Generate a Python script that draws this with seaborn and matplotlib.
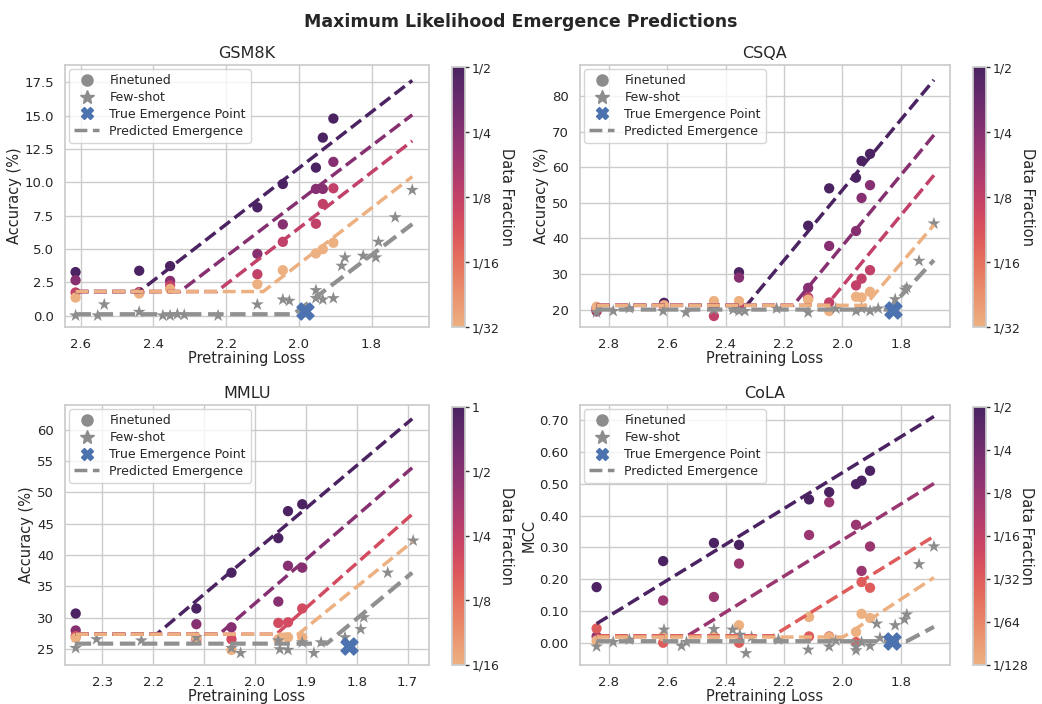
import numpy as np
import pandas as pd
import matplotlib
matplotlib.use("Agg")
import matplotlib.pyplot as plt
import seaborn as sns
from matplotlib.colors import LogNorm
from matplotlib.lines import Line2D
from matplotlib.ticker import MultipleLocator, FormatStrFormatter

# ---------------- GSM8K
gsm_loss = [2.614, 2.439, 2.354, 2.114, 2.044, 1.953, 1.934, 1.905]
gsm_frac = [1/2, 1/4, 1/8, 1/32]
gsm_ft = [
    [3.26, 3.36, 3.71, 8.12, 9.87, 11.1, 13.35, 14.78],
    [2.65, 1.75, 2.6, 4.63, 6.84, 9.5, 9.5, 11.53],
    [1.73, 1.75, 2.26, 3.1, 5.53, 6.89, 8.37, 9.55],
    [1.35, 1.65, 2.0, 2.35, 3.4, 4.66, 4.98, 5.46],
]
gsm_fs_loss = [2.614, 2.553, 2.535, 2.439, 2.374, 2.354, 2.334, 2.315, 2.222, 2.114, 2.044, 2.026,
               1.953, 1.953, 1.934, 1.905, 1.882, 1.873, 1.823, 1.788, 1.781, 1.735, 1.688]
gsm_fs_acc = [0.0, 0.0, 0.83, 0.27, 0.0, 0.0, 0.1, 0.05, 0.0, 0.83, 1.2, 1.1,
              1.9, 1.3, 1.2, 1.3, 3.73, 4.36, 4.48, 4.36, 5.53, 7.37, 9.42]
gsm_true = (1.983, 0.35)
gsm_flat = [1.8, 1.8, 1.8, 1.8]
gsm_breaks = [2.439, 2.327, 2.226, 2.098]
gsm_ends = [17.64, 15.06, 13.1, 10.42]
gsm_fs_fit = (0.1, 2.015, 6.86)
gsm_span = (2.614, 1.688)
gsm_ticks = [1/2, 1/4, 1/8, 1/16, 1/32]

# ---------------- CSQA
csqa_loss = [2.842, 2.611, 2.44, 2.354, 2.117, 2.045, 1.953, 1.934, 1.905]
csqa_frac = [1/2, 1/4, 1/8, 1/32]
csqa_ft = [
    [20.5, 21.9, 21.2, 30.5, 43.6, 54.1, 57.1, 61.8, 63.8],
    [19.5, 21.3, 21.0, 29.0, 26.1, 37.9, 42.1, 51.4, 55.0],
    [19.8, 21.0, 18.2, 20.9, 23.4, 22.0, 26.8, 28.7, 31.1],
    [20.8, 21.2, 22.4, 22.4, 22.8, 19.6, 23.6, 23.4, 25.0],
]
csqa_fs_loss = [2.842, 2.785, 2.73, 2.614, 2.536, 2.44, 2.374, 2.354, 2.334, 2.225, 2.117, 2.022,
                1.953, 1.934, 1.905, 1.877, 1.819, 1.785, 1.779, 1.737, 1.686]
csqa_fs_acc = [19.2, 19.6, 20.4, 19.6, 19.2, 20.0, 20.0, 19.6, 19.6, 20.3, 19.2, 20.3,
               19.6, 20.3, 19.6, 20.3, 22.9, 25.6, 26.2, 33.7, 44.2]
csqa_true = (1.825, 20.0)
csqa_flat = [21.2, 21.2, 21.2, 21.2]
csqa_breaks = [2.328, 2.168, 2.054, 1.922]
csqa_ends = [84.6, 69.1, 57.8, 43.8]
csqa_fs_fit = (20.0, 1.842, 33.9)
csqa_span = (2.842, 1.686)
csqa_ticks = [1/2, 1/4, 1/8, 1/16, 1/32]

# ---------------- MMLU
mmlu_loss = [2.352, 2.115, 2.046, 1.954, 1.935, 1.907]
mmlu_frac = [1, 1/2, 1/5, 1/16]
mmlu_ft = [
    [30.7, 31.5, 37.2, 42.7, 47.0, 48.1],
    [28.0, 29.0, 28.5, 32.6, 38.3, 38.0],
    [27.1, 26.6, 26.6, 29.2, 29.3, 31.5],
    [26.8, 26.9, 24.9, 26.6, 26.9, 26.9],
]
mmlu_fs_loss = [2.352, 2.311, 2.223, 2.115, 2.046, 2.028, 1.954, 1.951, 1.935, 1.907, 1.884,
                1.870, 1.823, 1.792, 1.786, 1.739, 1.689]
mmlu_fs_acc = [25.2, 26.6, 26.4, 26.9, 25.2, 24.4, 26.4, 25.0, 24.9, 26.1, 24.4,
               26.1, 26.9, 28.2, 30.1, 37.2, 42.3]
mmlu_true = (1.815, 25.6)
mmlu_flat = [27.4, 27.4, 27.4, 27.4]
mmlu_breaks = [2.193, 2.070, 1.958, 1.915]
mmlu_ends = [61.7, 53.9, 46.5, 42.1]
mmlu_fs_fit = (25.9, 1.859, 37.2)
mmlu_span = (2.352, 1.691)
mmlu_ticks = [1, 1/2, 1/4, 1/8, 1/16]

# ---------------- CoLA
cola_loss = [2.842, 2.614, 2.44, 2.354, 2.114, 2.045, 1.953, 1.934, 1.905]
cola_frac = [1/2, 1/8, 1/32, 1/128]
cola_ft = [
    [0.175, 0.257, 0.314, 0.308, 0.451, 0.474, 0.499, 0.510, 0.541],
    [0.02, 0.133, 0.144, 0.249, 0.339, 0.442, 0.371, 0.226, 0.303],
    [0.045, 0.0, 0.02, 0.0, 0.02, 0.02, 0.002, 0.191, 0.173],
    [0.007, 0.02, 0.02, 0.055, 0.081, 0.018, 0.034, 0.091, 0.078],
]
cola_fs_loss = [2.842, 2.785, 2.73, 2.611, 2.551, 2.534, 2.44, 2.376, 2.351, 2.33, 2.311, 2.219,
                2.117, 2.045, 2.022, 1.953, 1.953, 1.934, 1.905, 1.882, 1.871, 1.819, 1.787,
                1.779, 1.737, 1.686]
cola_fs_mcc = [-0.012, 0.002, 0.01, 0.041, -0.01, 0.002, 0.043, 0.041, 0.025, -0.033, 0.018, 0.01,
               -0.022, -0.012, 0.007, -0.024, -0.012, 0.002, -0.01, 0.06, 0.015, 0.055, 0.073,
               0.089, 0.247, 0.303]
cola_true = (1.831, 0.007)
cola_flat = [0.06, 0.02, 0.022, 0.018]
cola_breaks = [2.842, 2.534, 2.237, 1.997]
cola_ends = [0.712, 0.501, 0.335, 0.205]
cola_fs_fit = (0.005, 1.779, 0.05)
cola_span = (2.842, 1.686)
cola_ticks = [1/2, 1/4, 1/8, 1/16, 1/32, 1/64, 1/128]

sns.set_theme(style="whitegrid")
plt.rcParams["font.family"] = ["DejaVu Sans"]
cmap = sns.color_palette("flare", as_cmap=True)
grey = "#8c8c8c"
blue = sns.color_palette("deep")[0]

fig = plt.figure(figsize=(10.42, 7.04), dpi=100)
fig.suptitle("Maximum Likelihood Emergence Predictions", fontsize=12.5, fontweight="bold", y=0.982)


def frac_label(f):
    return "1" if f == 1 else "1/%d" % round(1 / f)


def panel(pos, cpos, title, ylabel, loss, frac, ft, fs_loss, fs_y, true_pt,
          flat, breaks, ends, fs_fit, span, ticks, xlim, ylim, xstep, ystep, yfmt, cpad):
    ax = fig.add_axes(pos)
    cax = fig.add_axes(cpos)
    norm = LogNorm(min(ticks), max(ticks))

    for f, vals in zip(frac, ft):
        sns.scatterplot(x=loss, y=vals, color=cmap(norm(f)), s=55, edgecolor="none",
                        ax=ax, zorder=2, legend=False)
    sns.scatterplot(x=fs_loss, y=fs_y, marker="*", color=grey, s=95, edgecolor="none",
                    ax=ax, zorder=2, legend=False)

    for f, fl, b, e in zip(frac, flat, breaks, ends):
        sns.lineplot(x=[span[0], b, span[1]], y=[fl, fl, e], color=cmap(norm(f)),
                     linestyle="--", lw=2.5, estimator=None, sort=False, ax=ax, zorder=3)
    sns.lineplot(x=[span[0], fs_fit[1], span[1]], y=[fs_fit[0], fs_fit[0], fs_fit[2]],
                 color="#909090", linestyle="--", lw=3.0, estimator=None, sort=False, ax=ax, zorder=3)
    ax.scatter([true_pt[0]], [true_pt[1]], marker="X", color=blue, s=150, zorder=5)

    ax.set_xlim(*xlim)
    ax.set_ylim(*ylim)
    ax.xaxis.set_major_locator(MultipleLocator(xstep))
    ax.yaxis.set_major_locator(MultipleLocator(ystep))
    ax.yaxis.set_major_formatter(FormatStrFormatter(yfmt))
    ax.tick_params(labelsize=9.5, pad=2)
    ax.set_title(title, fontsize=11.5, pad=5)
    ax.set_xlabel("Pretraining Loss", fontsize=10.5, labelpad=0)
    ax.set_ylabel(ylabel, fontsize=10.5, labelpad=2)

    handles = [
        Line2D([], [], marker="o", color=grey, linestyle="", markersize=8),
        Line2D([], [], marker="*", color=grey, linestyle="", markersize=10),
        Line2D([], [], marker="X", color=blue, linestyle="", markersize=9),
        Line2D([], [], color=grey, linestyle="--", lw=2.5),
    ]
    ax.legend(handles, ["Finetuned", "Few-shot", "True Emergence Point", "Predicted Emergence"],
              loc="upper left", fontsize=9, borderaxespad=0.35, handletextpad=0.8,
              labelspacing=0.3, borderpad=0.4)

    sm = plt.cm.ScalarMappable(cmap=cmap, norm=norm)
    cb = fig.colorbar(sm, cax=cax)
    cb.ax.minorticks_off()
    cb.set_ticks(ticks)
    cb.set_ticklabels([frac_label(t) for t in ticks])
    cb.ax.tick_params(labelsize=9, length=3, width=1, color="#333333", pad=2)
    cb.outline.set_edgecolor("#cccccc")
    cb.set_label("Data Fraction", rotation=270, fontsize=10.5, labelpad=cpad)


panel([0.0624, 0.5355, 0.3493, 0.3722], [0.4338, 0.5355, 0.0125, 0.3693], "GSM8K", "Accuracy (%)",
      gsm_loss, gsm_frac, gsm_ft, gsm_fs_loss, gsm_fs_acc, gsm_true, gsm_flat, gsm_breaks, gsm_ends,
      gsm_fs_fit, gsm_span, gsm_ticks, (2.643, 1.642), (-0.86, 18.8), 0.2, 2.5, "%.1f", 10)
panel([0.5566, 0.5355, 0.3551, 0.3722], [0.9338, 0.5355, 0.0125, 0.3693], "CSQA", "Accuracy (%)",
      csqa_loss, csqa_frac, csqa_ft, csqa_fs_loss, csqa_fs_acc, csqa_true, csqa_flat, csqa_breaks,
      csqa_ends, csqa_fs_fit, csqa_span, csqa_ticks, (2.899, 1.631), (15.1, 88.8), 0.2, 10, "%d", 10)
panel([0.0624, 0.0554, 0.3493, 0.3693], [0.4338, 0.0554, 0.0125, 0.3665], "MMLU", "Accuracy (%)",
      mmlu_loss, mmlu_frac, mmlu_ft, mmlu_fs_loss, mmlu_fs_acc, mmlu_true, mmlu_flat, mmlu_breaks,
      mmlu_ends, mmlu_fs_fit, mmlu_span, mmlu_ticks, (2.373, 1.658), (22.5, 63.9), 0.1, 5, "%d", 10)
panel([0.5566, 0.0554, 0.3551, 0.3693], [0.9338, 0.0554, 0.0125, 0.3665], "CoLA", "MCC",
      cola_loss, cola_frac, cola_ft, cola_fs_loss, cola_fs_mcc, cola_true, cola_flat, cola_breaks,
      cola_ends, cola_fs_fit, cola_span, cola_ticks, (2.899, 1.631), (-0.07, 0.748), 0.2, 0.1, "%.2f", 4)

fig.savefig("out.png", dpi=100)
